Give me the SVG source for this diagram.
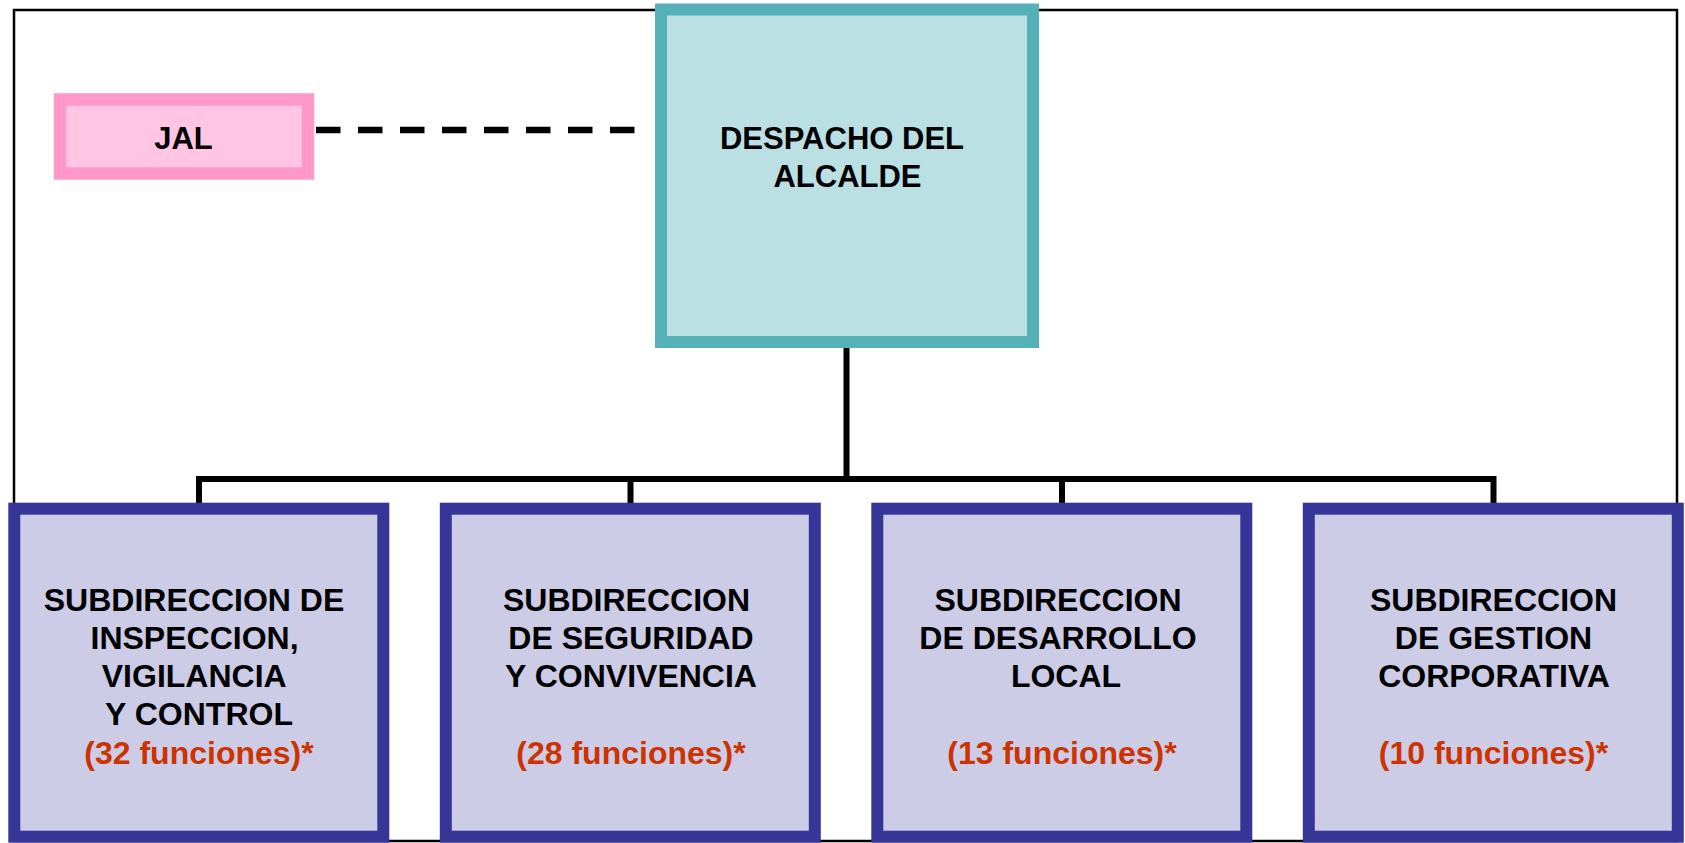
<svg xmlns="http://www.w3.org/2000/svg" width="1685" height="843" viewBox="0 0 1685 843">
<style>
  text { font-family: "Liberation Sans", Arial, sans-serif; font-weight: bold; text-anchor: middle; fill: #000; }
  .top { font-size: 31px; }
  .sub { font-size: 32px; }
  .red { fill: #CC3300; }
  .sbox { fill: #CCCCE6; stroke: #363699; stroke-width: 12; }
  .conn { fill: none; stroke: #000; stroke-width: 6; }
</style>
<rect width="1685" height="843" fill="#fff"/>
<rect id="frame" x="14" y="10" width="1663" height="831" fill="none" stroke="#000" stroke-width="2.5"/>
<g id="connectors">
  <path class="conn" d="M846.5 348 V479"/>
  <path class="conn" d="M199 503 V479 H1493.5 V503"/>
  <path class="conn" d="M630.5 479 V503 M1062 479 V503"/>
  <line x1="316" y1="130" x2="635" y2="130" stroke="#000" stroke-width="6.5" stroke-dasharray="24.5 17.5"/>
</g>
<g id="jal">
  <rect x="60" y="99.5" width="248" height="74" fill="#FFC5E3" stroke="#FF99CC" stroke-width="12.5"/>
  <text class="top" x="183.5" y="149">JAL</text>
</g>
<g id="despacho">
  <rect x="661" y="9.5" width="372" height="332.5" fill="#BBE0E3" stroke="#55B0B8" stroke-width="12"/>
  <text class="top" x="842" y="149.3">DESPACHO DEL</text>
  <text class="top" x="847.5" y="186.7">ALCALDE</text>
</g>
<g id="sub1">
  <rect class="sbox" x="14.3" y="508.7" width="369" height="328"/>
  <text class="sub" x="194" y="610.5">SUBDIRECCION DE</text>
  <text class="sub" x="194.5" y="648.8">INSPECCION,</text>
  <text class="sub" x="194.2" y="687.1">VIGILANCIA</text>
  <text class="sub" x="199" y="725.4">Y CONTROL</text>
  <text class="sub red" x="199" y="763.7">(32 funciones)*</text>
</g>
<g id="sub2">
  <rect class="sbox" x="445.8" y="508.7" width="369" height="328"/>
  <text class="sub" x="626.5" y="610.5">SUBDIRECCION</text>
  <text class="sub" x="631" y="648.8">DE SEGURIDAD</text>
  <text class="sub" x="631" y="687.1">Y CONVIVENCIA</text>
  <text class="sub red" x="631" y="763.7">(28 funciones)*</text>
</g>
<g id="sub3">
  <rect class="sbox" x="877.3" y="508.7" width="369" height="328"/>
  <text class="sub" x="1058" y="610.5">SUBDIRECCION</text>
  <text class="sub" x="1058" y="648.8">DE DESARROLLO</text>
  <text class="sub" x="1066" y="687.1">LOCAL</text>
  <text class="sub red" x="1062" y="763.7">(13 funciones)*</text>
</g>
<g id="sub4">
  <rect class="sbox" x="1308.8" y="508.7" width="369" height="328"/>
  <text class="sub" x="1493.5" y="610.5">SUBDIRECCION</text>
  <text class="sub" x="1493.5" y="648.8">DE GESTION</text>
  <text class="sub" x="1494" y="687.1">CORPORATIVA</text>
  <text class="sub red" x="1493.5" y="763.7">(10 funciones)*</text>
</g>
</svg>
